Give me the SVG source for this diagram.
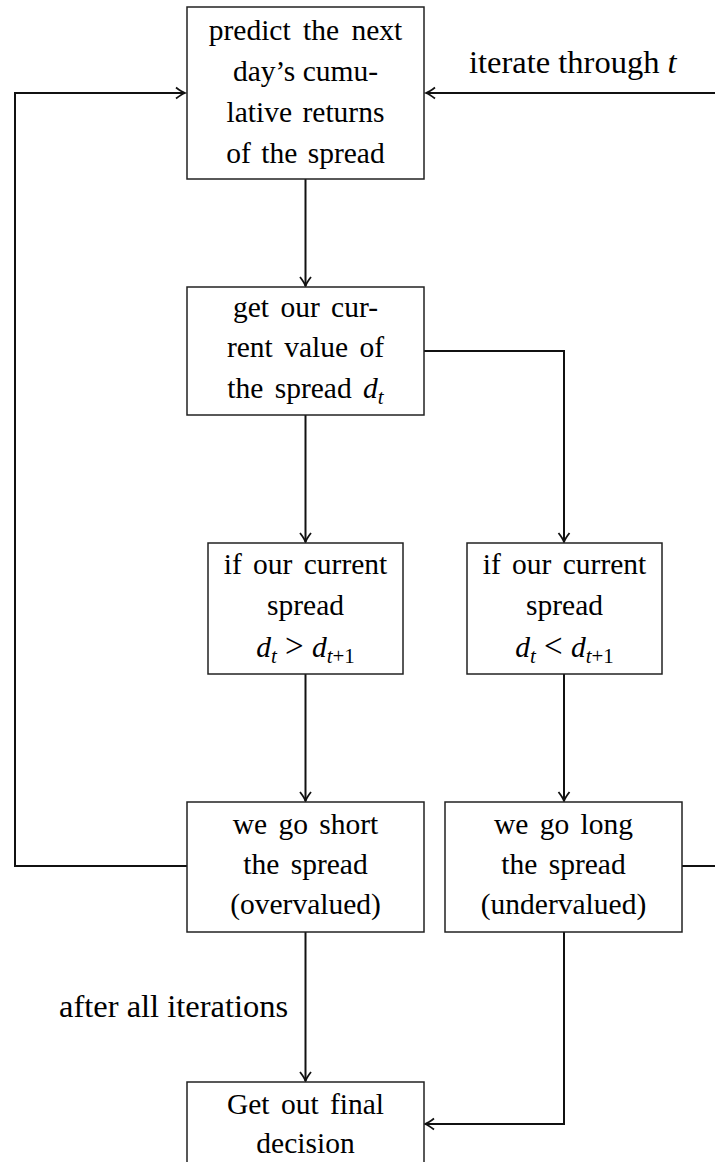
<svg xmlns="http://www.w3.org/2000/svg" width="715" height="1162" viewBox="0 0 715 1162">
<defs>
<style>
.box{fill:#fff;stroke:#222;stroke-width:1.5}
.t{font-family:"Liberation Serif","Times New Roman",serif;font-size:29.5px;fill:#000;text-anchor:middle}
.lbl{font-family:"Liberation Serif","Times New Roman",serif;font-size:32.5px;fill:#000}
.m{font-style:italic}
.sub{font-size:21px}
.rel{font-size:33px}
.c{fill:none;stroke:#111;stroke-width:2}
</style>
<marker id="ah" viewBox="-11 -7 13 14" refX="0" refY="0" markerWidth="13" markerHeight="14" markerUnits="userSpaceOnUse" orient="auto">
<path d="M-9,-5.5 Q-3.5,-1.2 0,0 Q-3.5,1.2 -9,5.5" fill="none" stroke="#111" stroke-width="1.8"/>
</marker>
</defs>
<rect width="715" height="1162" fill="#fff"/>
<g id="connectors">
<path class="c" d="M715,93 H426" marker-end="url(#ah)"/>
<path class="c" d="M187,866 H15 V93 H185" marker-end="url(#ah)"/>
<path class="c" d="M305.5,179 V286" marker-end="url(#ah)"/>
<path class="c" d="M305.5,415 V542" marker-end="url(#ah)"/>
<path class="c" d="M424,351 H564 V542" marker-end="url(#ah)"/>
<path class="c" d="M305.5,674 V801" marker-end="url(#ah)"/>
<path class="c" d="M564,674 V801" marker-end="url(#ah)"/>
<path class="c" d="M305.5,932 V1081" marker-end="url(#ah)"/>
<path class="c" d="M564,932 V1124 H425" marker-end="url(#ah)"/>
<path class="c" d="M682,866 H715"/>
<text class="lbl" x="469" y="73">iterate through <tspan class="m">t</tspan></text>
<text class="lbl" x="59" y="1017">after all iterations</text>
</g>
<g id="n1">
<rect class="box" x="187" y="7" width="237" height="172"/>
<text class="t" x="305.5" y="40" word-spacing="5">predict the next</text>
<text class="t" x="305.5" y="81">day’s cumu-</text>
<text class="t" x="305.5" y="122" word-spacing="3">lative returns</text>
<text class="t" x="305.5" y="163" word-spacing="3">of the spread</text>
</g>
<g id="n2">
<rect class="box" x="187" y="287" width="237" height="128"/>
<text class="t" x="305.5" y="317" word-spacing="4">get our cur-</text>
<text class="t" x="305.5" y="357" word-spacing="4">rent value of</text>
<text class="t" x="305.5" y="398" word-spacing="4">the spread <tspan class="m">d</tspan><tspan class="m sub" dy="6">t</tspan></text>
</g>
<g id="n3">
<rect class="box" x="208" y="543" width="195" height="131"/>
<text class="t" x="305.5" y="574" word-spacing="4">if our current</text>
<text class="t" x="305.5" y="615">spread</text>
<text class="t" x="305.5" y="657"><tspan class="m">d</tspan><tspan class="m sub" dy="6">t</tspan><tspan class="rel" dy="-6"> &gt; </tspan><tspan class="m">d</tspan><tspan class="m sub" dy="6">t</tspan><tspan class="sub">+1</tspan></text>
</g>
<g id="n4">
<rect class="box" x="467" y="543" width="195" height="131"/>
<text class="t" x="564.5" y="574" word-spacing="4">if our current</text>
<text class="t" x="564.5" y="615">spread</text>
<text class="t" x="564.5" y="657"><tspan class="m">d</tspan><tspan class="m sub" dy="6">t</tspan><tspan class="rel" dy="-6"> &lt; </tspan><tspan class="m">d</tspan><tspan class="m sub" dy="6">t</tspan><tspan class="sub">+1</tspan></text>
</g>
<g id="n5">
<rect class="box" x="187" y="802" width="237" height="130"/>
<text class="t" x="305.5" y="834" word-spacing="4">we go short</text>
<text class="t" x="305.5" y="874" word-spacing="4">the spread</text>
<text class="t" x="305.5" y="914">(overvalued)</text>
</g>
<g id="n6">
<rect class="box" x="445" y="802" width="237" height="130"/>
<text class="t" x="563.5" y="834" word-spacing="4">we go long</text>
<text class="t" x="563.5" y="874" word-spacing="4">the spread</text>
<text class="t" x="563.5" y="914">(undervalued)</text>
</g>
<g id="n7">
<rect class="box" x="187" y="1082" width="237" height="140"/>
<text class="t" x="305.5" y="1114" word-spacing="4">Get out final</text>
<text class="t" x="305.5" y="1153">decision</text>
</g>
</svg>
